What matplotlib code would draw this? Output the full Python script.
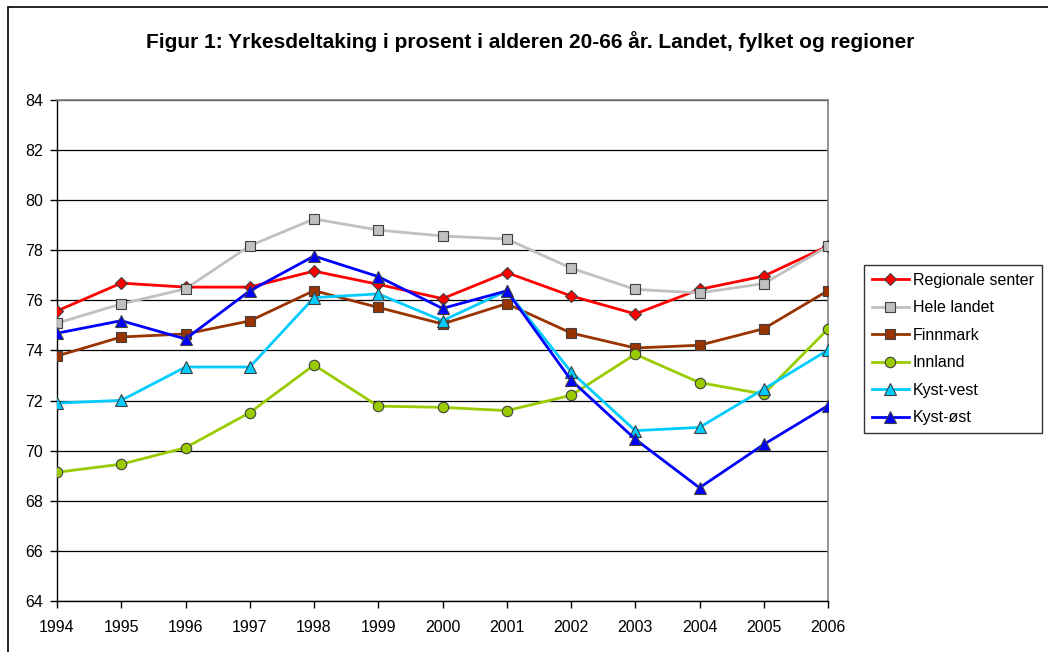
import matplotlib
matplotlib.use("Agg")
from matplotlib import pyplot as plt
from matplotlib.patches import Rectangle

plt.rcParams["font.family"] = ["Liberation Sans", "DejaVu Sans"]

years = [1994, 1995, 1996, 1997, 1998, 1999, 2000, 2001, 2002, 2003, 2004, 2005, 2006]
regionale = [75.58, 76.69, 76.53, 76.53, 77.17, 76.64, 76.07, 77.11, 76.18, 75.46, 76.44, 76.97, 78.17]
hele = [75.09, 75.86, 76.46, 78.18, 79.25, 78.81, 78.57, 78.45, 77.29, 76.44, 76.30, 76.67, 78.16]
finnmark = [73.78, 74.54, 74.66, 75.18, 76.39, 75.72, 75.06, 75.87, 74.70, 74.10, 74.21, 74.87, 76.39]
innland = [69.14, 69.46, 70.12, 71.52, 73.42, 71.78, 71.73, 71.60, 72.21, 73.85, 72.72, 72.26, 74.86]
kyst_vest = [71.90, 72.01, 73.34, 73.34, 76.11, 76.26, 75.19, 76.38, 73.15, 70.80, 70.93, 72.46, 74.02]
kyst_ost = [74.69, 75.19, 74.46, 76.38, 77.77, 76.95, 75.68, 76.38, 72.82, 70.46, 68.52, 70.25, 71.80]

series = [
    ("Regionale senter", regionale, "#FF0000", "D", 6.5),
    ("Hele landet", hele, "#C0C0C0", "s", 7),
    ("Finnmark", finnmark, "#993300", "s", 7),
    ("Innland", innland, "#99CC00", "o", 7.5),
    ("Kyst-vest", kyst_vest, "#00CCFF", "^", 8),
    ("Kyst-øst", kyst_ost, "#0000FF", "^", 8),
]

fig = plt.figure(figsize=(10.48, 6.52), dpi=100)
ax = fig.add_axes([57 / 1048, 1 - 601 / 652, (828 - 57) / 1048, 501 / 652])

# outer chart border (right/bottom are cut off in the original)
fig.patches.append(Rectangle((8 / 1048, -0.1), 1.2, (652 - 7) / 652 + 0.1,
                             transform=fig.transFigure, fill=False,
                             edgecolor="black", linewidth=1.2))

for name, vals, col, mk, ms in series:
    ax.plot(years, vals, color=col, linewidth=2, marker=mk, markersize=ms,
            markerfacecolor=col, markeredgecolor="#404040", markeredgewidth=0.8,
            label=name, zorder=3)

ax.set_xlim(1994, 2006)
ax.set_ylim(64, 84)
ax.set_xticks(years)
ax.set_yticks(range(64, 85, 2))
ax.yaxis.grid(True, color="black", linewidth=0.9)
ax.set_axisbelow(True)
for s in ["top", "right"]:
    ax.spines[s].set_color("#808080")
    ax.spines[s].set_linewidth(1.2)
for s in ["left", "bottom"]:
    ax.spines[s].set_color("black")
    ax.spines[s].set_linewidth(1)
ax.tick_params(axis="both", direction="out", length=5, width=1, labelsize=11.5, colors="black")
ax.tick_params(axis="x", pad=9)
ax.tick_params(axis="y", pad=5)

fig.text(0.506, 1 - 42 / 652, "Figur 1: Yrkesdeltaking i prosent i alderen 20-66 år. Landet, fylket og regioner",
         ha="center", va="center", fontsize=15, fontweight="bold")

leg = ax.legend(loc="upper left", bbox_to_anchor=(864 / 1048, 1 - 265 / 652),
                bbox_transform=fig.transFigure, frameon=True, fancybox=False,
                edgecolor="black", fontsize=11.5, handlelength=2.3, borderpad=0.5,
                labelspacing=0.78, handletextpad=0.25, borderaxespad=0)
leg.get_frame().set_linewidth(1)

fig.savefig("out.png", dpi=100)
